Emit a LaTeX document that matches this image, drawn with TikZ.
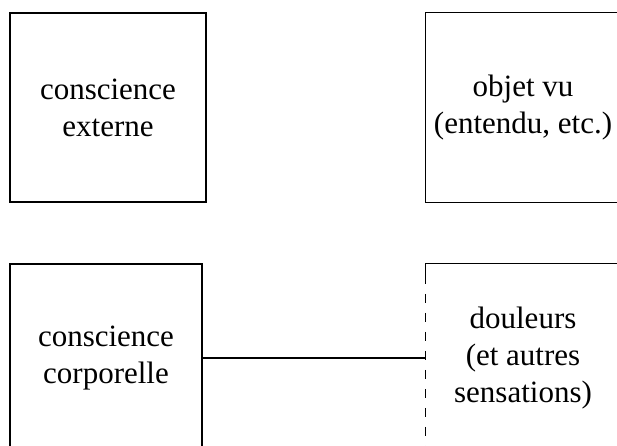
\documentclass[tikz,border=0pt]{standalone}
\usepackage{fontspec}
\setmainfont{Liberation Serif}
\begin{document}
\begin{tikzpicture}[x=1pt,y=1pt,
  box/.style={draw, line width=1.3pt, inner sep=0pt, align=center,
    font=\fontsize{31}{37}\selectfont},
  openbox/.style={inner sep=0pt, align=center, font=\fontsize{31}{37}\selectfont},
  edge/.style={line width=1.3pt},
  link/.style={line width=1.1pt}]
\useasboundingbox (0,0) rectangle (617,-446);
\clip (0,0) rectangle (617,-446);
\node[box, minimum width=196pt, minimum height=189pt] (ce) at (108,-107.5) {conscience\\externe};
\node[openbox, minimum width=194pt, minimum height=189pt] (ov) at (523,-107.5) {objet vu\\(entendu, etc.)};
\node[box, minimum width=192pt, minimum height=188pt] (cc) at (106,-358) {conscience\\corporelle};
\node[openbox, minimum width=194pt, minimum height=188pt] (dl) at (523,-358) {douleurs\\(et autres\\sensations)};
% top-right box, running past the right edge
\draw[edge] ([xshift=40pt]ov.north east) -- (ov.north west) -- (ov.south west) -- ([xshift=40pt]ov.south east);
% bottom-right box: solid top, dashed left
\draw[edge] ([yshift=-20pt]dl.north west) -- (dl.north west) -- ([xshift=40pt]dl.north east);
\draw[edge, dash pattern=on 9pt off 10pt] ([yshift=-30pt]dl.north west) -- (dl.south west);
\draw[link] (cc.east) -- (cc.east -| dl.west);
\end{tikzpicture}
\end{document}
